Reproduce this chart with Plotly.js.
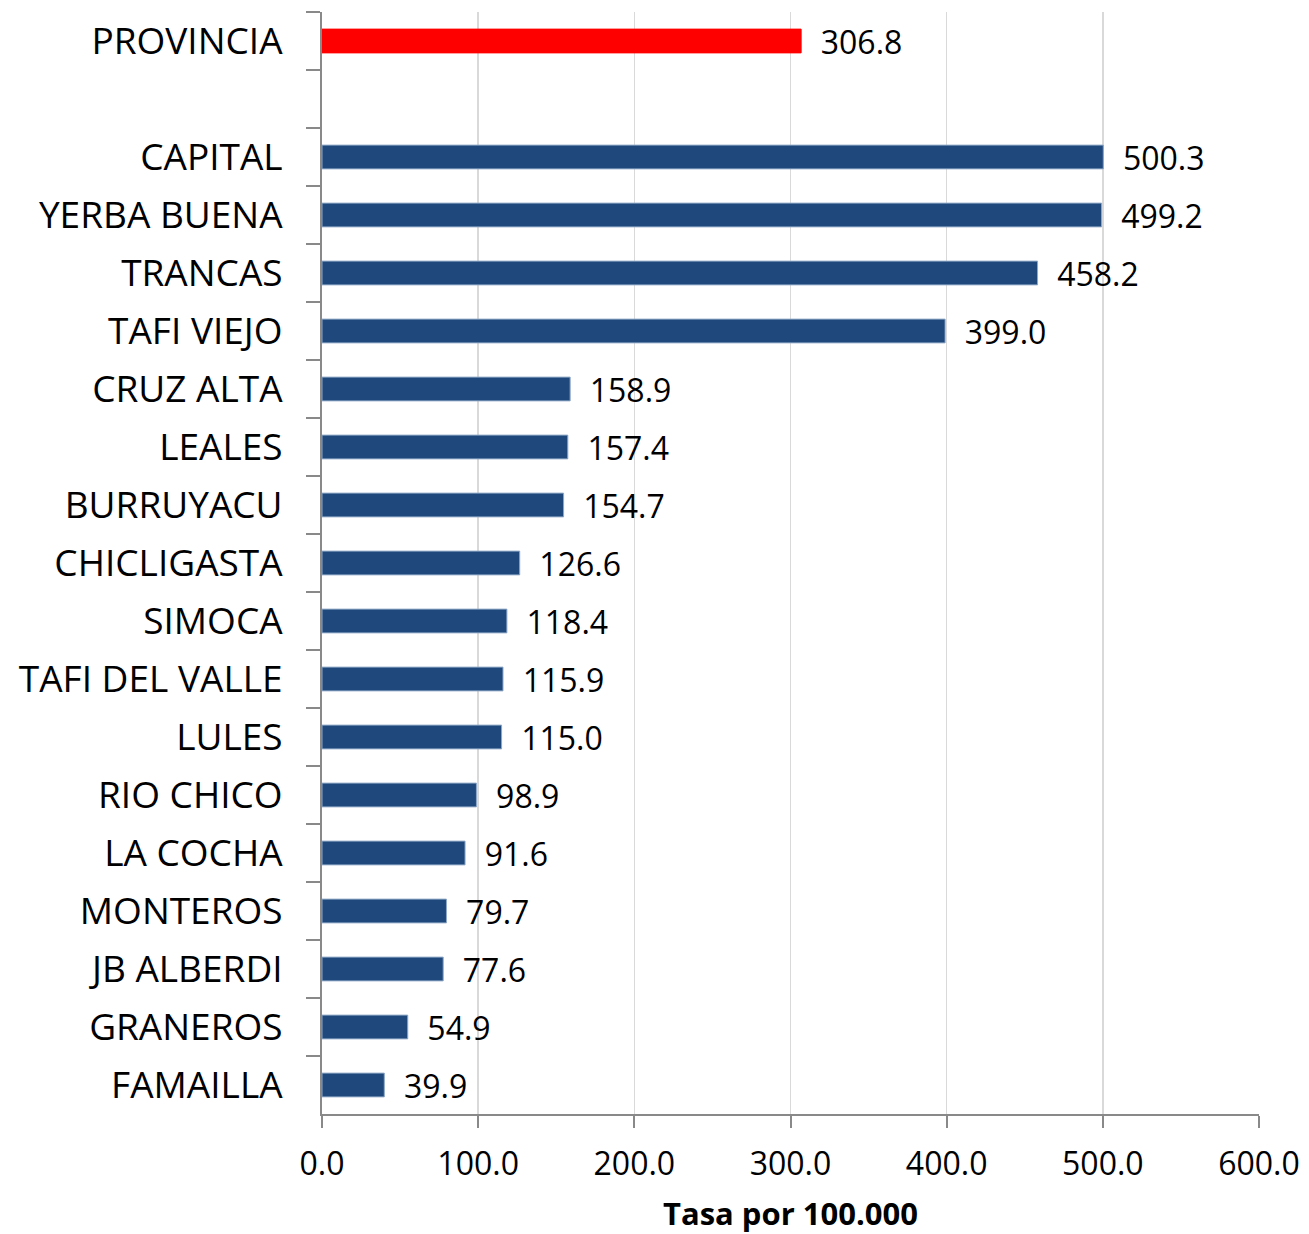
<!DOCTYPE html>
<html>
<head>
<meta charset="utf-8">
<script src="https://cdn.plot.ly/plotly-3.0.1.min.js"></script>
<style>html,body{margin:0;padding:0;background:#fff;}#chart{width:1309px;height:1234px;}</style>
</head>
<body>
<div id="chart"></div>
<script>
const categories = ["PROVINCIA", " ", "CAPITAL", "YERBA BUENA", "TRANCAS", "TAFI VIEJO", "CRUZ ALTA", "LEALES", "BURRUYACU", "CHICLIGASTA", "SIMOCA", "TAFI DEL VALLE", "LULES", "RIO CHICO", "LA COCHA", "MONTEROS", "JB ALBERDI", "GRANEROS", "FAMAILLA"];
const values = [306.8, null, 500.3, 499.2, 458.2, 399.0, 158.9, 157.4, 154.7, 126.6, 118.4, 115.9, 115.0, 98.9, 91.6, 79.7, 77.6, 54.9, 39.9];
const xTickValues = [0, 100, 200, 300, 400, 500, 600];
const xTickLabels = ["0.0", "100.0", "200.0", "300.0", "400.0", "500.0", "600.0"];
const xTitle = "Tasa por 100.000";

const colors = categories.map(c => c === "PROVINCIA" ? "#FF0000" : "#1F497D");
const lineColors = categories.map(c => c === "PROVINCIA" ? "#FF0000" : "#8FA8C6");

const bars = {
  type: "bar", orientation: "h",
  x: values, y: categories,
  width: 0.41,
  marker: {color: colors, line: {color: lineColors, width: 1}},
  text: values.map(v => v === null ? "" : "\u00a0\u00a0" + v.toFixed(1)),
  textposition: "outside",
  constraintext: "none",
  cliponaxis: false,
  textfont: {family: "Open Sans", size: 32, color: "#000"},
  hoverinfo: "skip"
};

const layout = {
  width: 1309, height: 1234,
  margin: {l: 322, r: 50, t: 12, b: 120},
  paper_bgcolor: "#fff", plot_bgcolor: "#fff",
  showlegend: false,
  font: {family: "Open Sans", color: "#000"},
  xaxis: {
    range: [0, 600],
    tickvals: xTickValues, ticktext: xTickLabels,
    showgrid: true, gridcolor: "#D9D9D9", gridwidth: 1.5,
    showline: true, linecolor: "#898989", linewidth: 2,
    ticks: "outside", ticklen: 12, tickcolor: "#898989", tickwidth: 2,
    tickfont: {family: "Open Sans", size: 32, color: "#000"},
    ticklabelstandoff: 9,
    zeroline: false,
    title: {text: xTitle, font: {family: "Open Sans", size: 31, color: "#000", weight: "bold"}, standoff: 22}
  },
  yaxis: {
    type: "category",
    categoryorder: "array", categoryarray: categories,
    range: [categories.length - 0.5, -0.5],
    showgrid: false,
    showline: true, linecolor: "#898989", linewidth: 2,
    ticks: "outside", tickson: "boundaries", ticklen: 14, tickcolor: "#898989", tickwidth: 2,
    tickfont: {family: "Open Sans", size: 37, color: "#000"},
    ticklabelstandoff: 30,
    zeroline: false
  }
};

Plotly.newPlot("chart", [bars], layout, {staticPlot: true, displayModeBar: false});
</script>
</body>
</html>
